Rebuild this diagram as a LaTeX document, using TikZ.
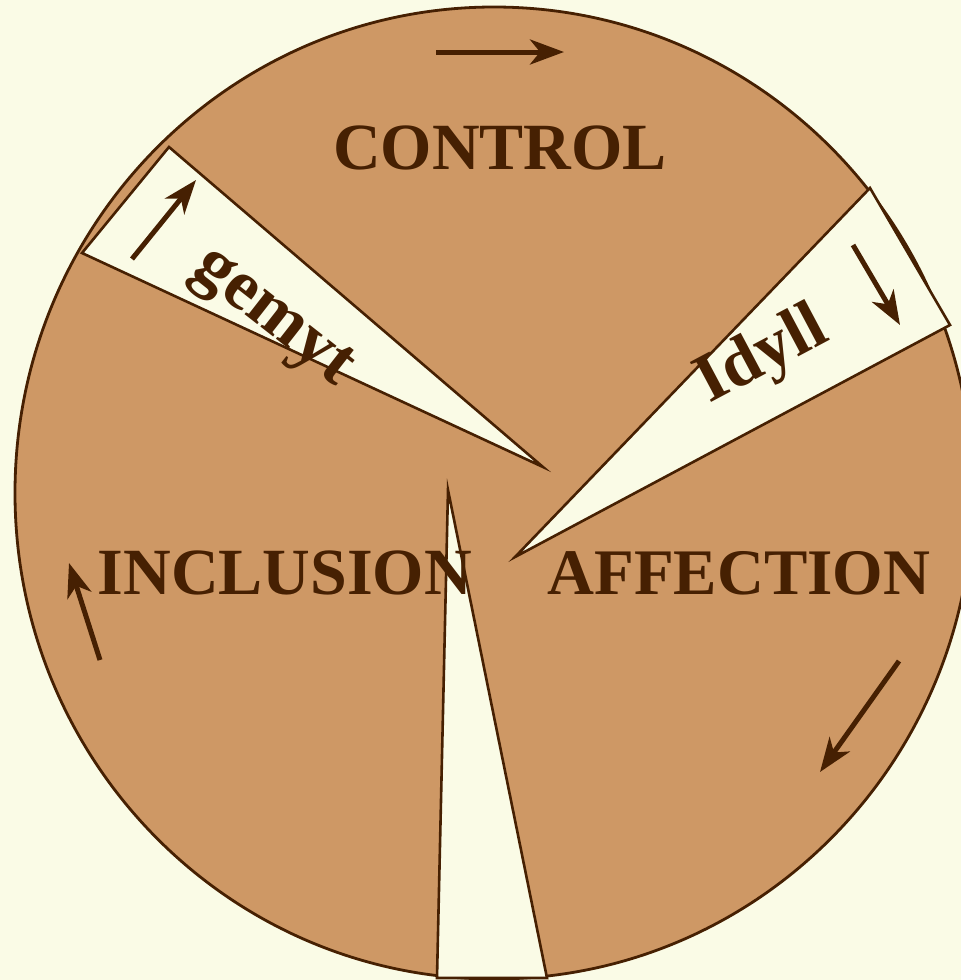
\documentclass[tikz,border=0pt]{standalone}
\usepackage{fontspec}
\setmainfont{Liberation Serif}
\usetikzlibrary{arrows.meta}
\definecolor{bgcream}{RGB}{250,251,230}
\definecolor{piebrown}{RGB}{206,152,101}
\definecolor{darkbrown}{RGB}{70,32,2}
\tikzset{
  wedge/.style={fill=bgcream,draw=darkbrown,line width=1.3pt,line join=miter},
  pie/.style={fill=piebrown,draw=darkbrown,line width=1.4pt},
  lbl/.style={text=darkbrown,font=\fontsize{33}{36}\selectfont\bfseries,inner sep=0pt},
  flow/.style={draw=darkbrown,line width=2.5pt,-{Stealth[length=17pt,width=12.5pt,inset=5pt]}}
}
\begin{document}
\begin{tikzpicture}[x=0.5pt,y=-0.5pt]
\fill[bgcream] (0,0) rectangle (961,980);
\useasboundingbox (0,0) rectangle (961,980);
% pie disc
\path[pie] (494,493) ellipse [x radius=239.5pt, y radius=243pt];
% gaps
\coordinate (g1) at (169,147);
\coordinate (g2) at (82,253);
\coordinate (g3) at (543,467);
\coordinate (i1) at (870,188);
\coordinate (i2) at (950,325);
\coordinate (i3) at (515,557);
\coordinate (b1) at (448,490);
\coordinate (b2) at (437,978);
\coordinate (b3) at (547,978);
\path[wedge] (g1) -- (g2) -- (g3) -- cycle;
\path[wedge] (i1) -- (i2) -- (i3) -- cycle;
\path[wedge] (b1) -- (b2) -- (b3) -- cycle;
% labels
\node[lbl] (control) at (500,148) {CONTROL};
\node[lbl] (inclusion) at (285,573) {INCLUSION};
\node[lbl,font=\fontsize{32.5}{36}\selectfont\bfseries] (affection) at (739,573) {AFFECTION};
\node[lbl,rotate=-38,font=\fontsize{35.5}{38}\selectfont\bfseries] (gemyt) at (271,320) {gemyt};
\node[lbl,rotate=28,font=\fontsize{34.5}{38}\selectfont\bfseries] (idyll) at (763,357) {Idyll};
% arrows
\coordinate (a1s) at (436,52);  \coordinate (a1e) at (564,52);
\coordinate (a2s) at (132,259); \coordinate (a2e) at (196,180);
\coordinate (a3s) at (853,245); \coordinate (a3e) at (900,325);
\coordinate (a4s) at (100,660); \coordinate (a4e) at (69,563);
\coordinate (a5s) at (899,661); \coordinate (a5e) at (820,772);
\draw[flow] (a1s) -- (a1e);
\draw[flow] (a2s) -- (a2e);
\draw[flow] (a3s) -- (a3e);
\draw[flow] (a4s) -- (a4e);
\draw[flow] (a5s) -- (a5e);
\end{tikzpicture}
\end{document}
